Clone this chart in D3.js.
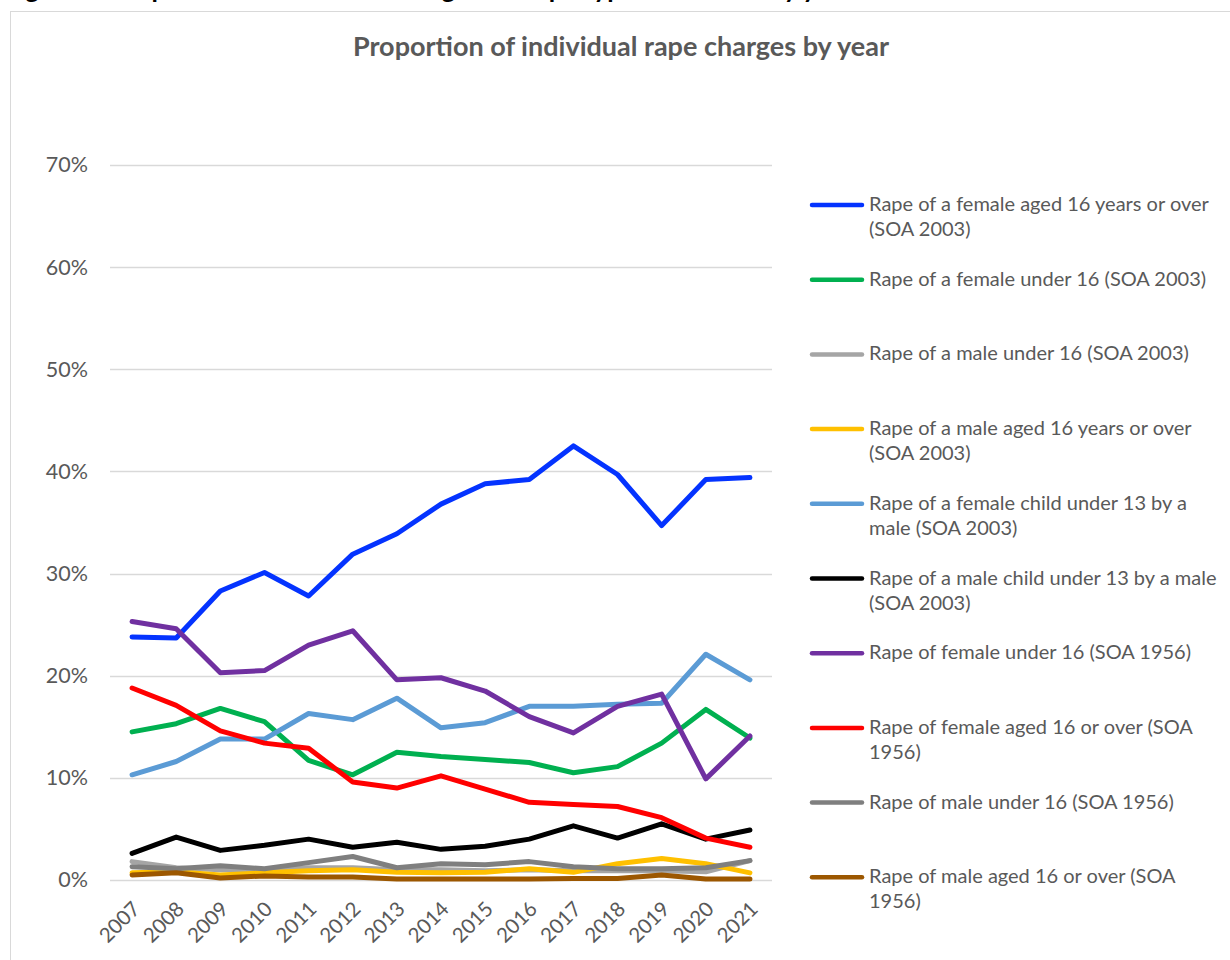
<!DOCTYPE html>
<html>
<head>
<meta charset="utf-8">
<script src="https://cdn.jsdelivr.net/npm/d3@7"></script>
<style>
  html, body { margin: 0; padding: 0; background: #fff; overflow: hidden; }
  svg { display: block; font-family: Lato, "Open Sans", sans-serif; }
</style>
</head>
<body>
<div id="chart"></div>
<script>
// data (percent)
const years = ["2007","2008","2009","2010","2011","2012","2013","2014","2015","2016","2017","2018","2019","2020","2021"];
const seriesNames = [
  "Rape of a female aged 16 years or over (SOA 2003)",
  "Rape of a female under 16 (SOA 2003)",
  "Rape of a male under 16 (SOA 2003)",
  "Rape of a male aged 16 years or over (SOA 2003)",
  "Rape of a female child under 13 by a male (SOA 2003)",
  "Rape of a male child under 13 by a male (SOA 2003)",
  "Rape of female under 16 (SOA 1956)",
  "Rape of female aged 16 or over (SOA 1956)",
  "Rape of male under 16 (SOA 1956)",
  "Rape of male aged 16 or over (SOA 1956)"
];
const female16Plus2003 = [23.8, 23.7, 28.3, 30.1, 27.8, 31.9, 33.9, 36.8, 38.8, 39.2, 42.5, 39.7, 34.7, 39.2, 39.4];
const femaleUnder16_2003 = [14.5, 15.3, 16.8, 15.5, 11.7, 10.3, 12.5, 12.1, 11.8, 11.5, 10.5, 11.1, 13.4, 16.7, 13.9];
const maleUnder16_2003 = [1.8, 1.2, 1.0, 1.0, 1.2, 1.2, 1.0, 1.0, 0.9, 1.0, 0.9, 0.9, 0.9, 0.8, 1.9];
const male16Plus2003 = [0.7, 0.8, 0.5, 0.7, 0.9, 1.0, 0.75, 0.7, 0.75, 1.1, 0.75, 1.6, 2.1, 1.6, 0.7];
const femaleChildUnder13 = [10.3, 11.6, 13.8, 13.8, 16.3, 15.7, 17.8, 14.9, 15.4, 17.0, 17.0, 17.2, 17.3, 22.1, 19.6];
const maleChildUnder13 = [2.6, 4.2, 2.9, 3.4, 4.0, 3.2, 3.7, 3.0, 3.3, 4.0, 5.3, 4.1, 5.5, 4.0, 4.9];
const femaleUnder16_1956 = [25.3, 24.6, 20.3, 20.5, 23.0, 24.4, 19.6, 19.8, 18.5, 16.0, 14.4, 17.0, 18.2, 9.9, 14.1];
const female16Plus1956 = [18.8, 17.1, 14.6, 13.4, 12.9, 9.6, 9.0, 10.2, 8.9, 7.6, 7.4, 7.2, 6.1, 4.1, 3.2];
const maleUnder16_1956 = [1.3, 1.1, 1.4, 1.1, 1.7, 2.3, 1.2, 1.6, 1.5, 1.8, 1.3, 1.1, 1.1, 1.2, 1.9];
const male16Plus1956 = [0.5, 0.7, 0.2, 0.4, 0.3, 0.3, 0.1, 0.1, 0.1, 0.1, 0.15, 0.15, 0.5, 0.1, 0.1];
const yTicks = [0, 10, 20, 30, 40, 50, 60, 70];

const seriesValues = [female16Plus2003, femaleUnder16_2003, maleUnder16_2003, male16Plus2003,
  femaleChildUnder13, maleChildUnder13, femaleUnder16_1956, female16Plus1956, maleUnder16_1956, male16Plus1956];
const colors = ["#0433ff", "#00b050", "#a5a5a5", "#ffc000", "#5b9bd5", "#000000", "#7030a0", "#ff0000", "#7f7f7f", "#9c5700"];

const width = 1230, height = 960;
const textColor = "#595959";

const svg = d3.select("#chart").append("svg")
  .attr("width", width)
  .attr("height", height);

// cut off figure caption above the chart frame
svg.append("text")
  .attr("x", 4)
  .attr("y", -2)
  .style("font-size", "26px")
  .style("font-weight", "bold")
  .attr("fill", "#000")
  .text("Figure 6: Proportion of individual charges for rape types over time by year");

// chart frame
svg.append("rect")
  .attr("x", 10.5)
  .attr("y", 11.5)
  .attr("width", 1300)
  .attr("height", 1100)
  .attr("fill", "#fff")
  .attr("stroke", "#d9d9d9");

svg.append("text")
  .attr("x", 621)
  .attr("y", 56)
  .attr("text-anchor", "middle")
  .style("font-size", "27px")
  .style("font-weight", "bold")
  .attr("fill", textColor)
  .text("Proportion of individual rape charges by year");

const x = d3.scaleBand().domain(years).range([110, 772]);
const y = d3.scaleLinear().domain([0, 70]).range([880, 165]);

// gridlines
svg.append("g")
  .selectAll("line")
  .data(yTicks)
  .enter()
  .append("line")
  .attr("x1", 110)
  .attr("x2", 772)
  .attr("y1", d => Math.round(y(d)) + 0.5)
  .attr("y2", d => Math.round(y(d)) + 0.5)
  .attr("stroke", "#d9d9d9")
  .attr("stroke-width", 1.3);

// y axis labels
const yAxis = svg.append("g")
  .attr("transform", "translate(88,0)")
  .call(d3.axisLeft(y).tickValues(yTicks).tickSize(0).tickPadding(0).tickFormat(d => d + "%"));
yAxis.select(".domain").remove();
yAxis.selectAll("text")
  .attr("fill", textColor)
  .style("font-size", "21.5px")
  .style("font-family", "Lato, 'Open Sans', sans-serif");

// x axis labels
const xAxis = svg.append("g")
  .attr("transform", "translate(0,901)")
  .call(d3.axisBottom(x).tickSize(0).tickPadding(0));
xAxis.select(".domain").remove();
xAxis.selectAll("text")
  .attr("fill", textColor)
  .style("font-size", "20.5px")
  .style("font-family", "Lato, 'Open Sans', sans-serif")
  .attr("text-anchor", "end")
  .attr("dy", "0.5em")
  .attr("transform", "translate(2,2) rotate(-45)");

// lines
const line = d3.line()
  .x((d, i) => x(years[i]) + x.bandwidth() / 2)
  .y(d => y(d));

svg.append("g")
  .selectAll("path")
  .data(seriesValues)
  .enter()
  .append("path")
  .attr("d", d => line(d))
  .attr("fill", "none")
  .attr("stroke", (d, i) => colors[i])
  .attr("stroke-width", 5)
  .attr("stroke-linejoin", "round")
  .attr("stroke-linecap", "round");

// legend
const legendTop = 205, legendStep = 74.7;
const legend = svg.append("g");
seriesNames.forEach((name, i) => {
  const cy = legendTop + i * legendStep;
  legend.append("line")
    .attr("x1", 812).attr("x2", 862)
    .attr("y1", cy).attr("y2", cy)
    .attr("stroke", colors[i])
    .attr("stroke-width", 4.5)
    .attr("stroke-linecap", "round");
  const t = legend.append("text")
    .attr("x", 869)
    .attr("y", cy + 6)
    .style("font-size", "20px")
    .attr("fill", textColor);
  // wrap words to the legend width
  const words = name.split(" ");
  let lineWords = [];
  let tspan = t.append("tspan").attr("x", 869).attr("dy", 0);
  words.forEach(w => {
    lineWords.push(w);
    tspan.text(lineWords.join(" "));
    if (tspan.node().getComputedTextLength() > 356 && lineWords.length > 1) {
      lineWords.pop();
      tspan.text(lineWords.join(" "));
      lineWords = [w];
      tspan = t.append("tspan").attr("x", 869).attr("dy", 25).text(w);
    }
  });
});
</script>
</body>
</html>
